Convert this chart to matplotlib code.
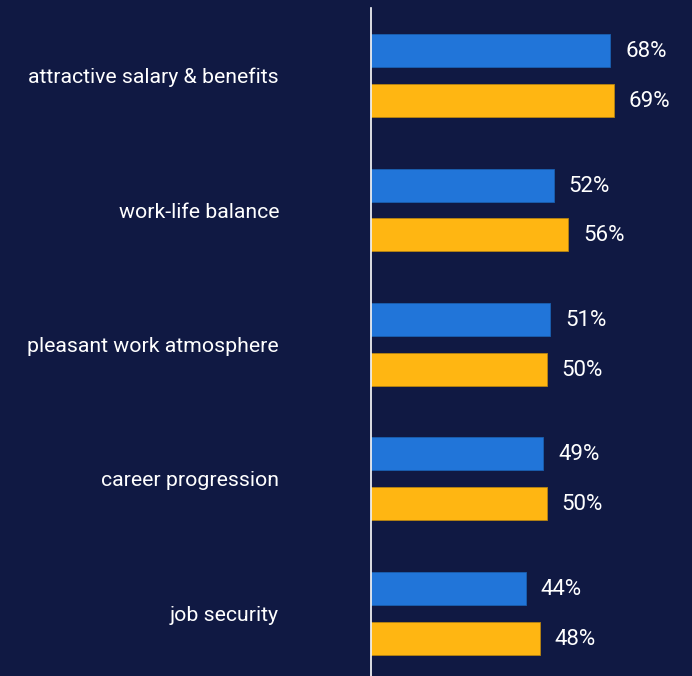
import matplotlib
matplotlib.use("Agg")
import matplotlib.pyplot as plt

categories = ["attractive salary & benefits", "work-life balance",
              "pleasant work atmosphere", "career progression", "job security"]
series_a = [68, 52, 51, 49, 44]
series_b = [69, 56, 50, 50, 48]
colors = ["#2175d9", "#ffb612"]
bg = "#101943"

plt.rcParams["font.family"] = ["Roboto", "DejaVu Sans"]

fig = plt.figure(figsize=(6.92, 6.76), dpi=100, facecolor=bg)
ax = fig.add_axes([371/692, 0, 1 - 371/692, (676-8)/676], facecolor=bg)

h = 33/134.5
off = 25/134.5
ys = list(range(len(categories)))
ax.barh([y - off for y in ys], series_a, height=h, color=colors[0], edgecolor="#1a5fb0", linewidth=0.6)
ax.barh([y + off for y in ys], series_b, height=h, color=colors[1], edgecolor="#b88410", linewidth=0.6)

for y, a, b in zip(ys, series_a, series_b):
    ax.annotate(f"{a}%", (a, y - off), xytext=(15, -1), textcoords="offset pixels",
                va="center", ha="left", color="white", fontsize=16)
    ax.annotate(f"{b}%", (b, y + off), xytext=(15, -1), textcoords="offset pixels",
                va="center", ha="left", color="white", fontsize=16)

ax.set_xlim(0, 321/3.515)
ax.set_ylim(4.465, -0.502)
ax.set_yticks(ys)
ax.set_yticklabels(categories, color="white", fontsize=15.3)
ax.tick_params(axis="y", length=0, pad=92*72/100)
ax.set_xticks([])
for s in ["top", "right", "bottom"]:
    ax.spines[s].set_visible(False)
ax.spines["left"].set_color("white")
ax.spines["left"].set_linewidth(1.2)

fig.savefig("out.png", dpi=100, facecolor=bg)
